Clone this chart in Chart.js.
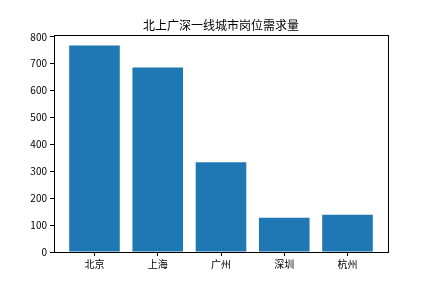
<!DOCTYPE html>
<html>
<head>
<meta charset="utf-8">
<script src="https://cdn.jsdelivr.net/npm/chart.js@4/dist/chart.umd.min.js"></script>
<style>
    html, body { margin: 0; padding: 0; background: #fff; }
    #wrap { width: 432px; height: 288px; }
</style>
</head>
<body>
<div id="wrap"><canvas id="jobChart" width="432" height="288"></canvas></div>
<script>
// Job demand in first-tier cities
const cities = ['北京', '上海', '广州', '深圳', '杭州'];
const demand = [767, 686, 334, 127, 138];
const yTicks = [0, 100, 200, 300, 400, 500, 600, 700, 800];

const fontFamily = '"Noto Sans CJK SC", "DejaVu Sans", sans-serif';

// Box around the plot area, like matplotlib spines
const frameBox = {
    id: 'frameBox',
    afterDraw(chart) {
        const a = chart.chartArea;
        const ctx = chart.ctx;
        ctx.save();
        ctx.strokeStyle = '#000';
        ctx.lineWidth = 1;
        ctx.strokeRect(Math.round(a.left) + 0.5, Math.round(a.top) + 0.5,
            Math.round(a.right - a.left), Math.round(a.bottom - a.top));
        ctx.restore();
    }
};

new Chart(document.getElementById('jobChart'), {
    type: 'bar',
    data: {
        datasets: [{
            data: cities.map((c, i) => ({ x: i, y: demand[i] })),
            backgroundColor: '#1f77b4',
            borderWidth: 0,
            barPercentage: 0.8,
            categoryPercentage: 1.0
        }]
    },
    options: {
        responsive: false,
        animation: false,
        layout: { padding: { left: 10, right: 0, top: 0, bottom: 0 } },
        plugins: {
            legend: { display: false },
            tooltip: { enabled: false },
            title: {
                display: true,
                text: '北上广深一线城市岗位需求量',
                color: '#000',
                font: { family: fontFamily, size: 12, weight: 'normal' },
                padding: { top: 18, bottom: 3 }
            }
        },
        scales: {
            x: {
                type: 'linear',
                offset: false,
                min: -0.64,
                max: 4.64,
                afterBuildTicks(axis) {
                    axis.ticks = cities.map((c, i) => ({ value: i }));
                },
                afterFit(axis) { axis.height = 36; },
                ticks: {
                    color: '#000',
                    font: { family: fontFamily, size: 10 },
                    padding: 2,
                    maxRotation: 0,
                    callback: v => cities[v]
                },
                grid: {
                    offset: false,
                    drawOnChartArea: false,
                    color: '#000',
                    tickLength: 4
                },
                border: { color: '#000' }
            },
            y: {
                min: 0,
                max: 805,
                afterBuildTicks(axis) {
                    axis.ticks = yTicks.map(v => ({ value: v }));
                },
                afterFit(axis) { axis.width = 44; },
                ticks: {
                    color: '#000',
                    font: { family: fontFamily, size: 10 },
                    padding: 3
                },
                grid: {
                    drawOnChartArea: false,
                    color: '#000',
                    tickLength: 4
                },
                border: { color: '#000' }
            },
            // empty right axis, only reserves the right margin
            yRight: {
                position: 'right',
                min: 0,
                max: 805,
                afterFit(axis) { axis.width = 44; },
                ticks: { display: false },
                grid: { display: false },
                border: { display: false }
            }
        }
    },
    plugins: [frameBox]
});
</script>
</body>
</html>
